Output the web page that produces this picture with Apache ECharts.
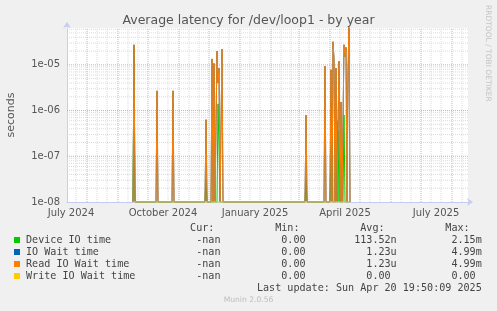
<!DOCTYPE html>
<html><head><meta charset="utf-8">
<script src="https://cdn.jsdelivr.net/npm/echarts@6/dist/echarts.min.js"></script>
<style>html,body{margin:0;padding:0;background:#f0f0f0}#c{width:497px;height:311px}</style>
</head><body><div id="c"></div>
<script>
// ---------- data ----------
const titleText = 'Average latency for /dev/loop1 - by year';
const yAxisName = 'seconds';
const xStart = '2024-07-12';
const xEnd = '2025-08-17';
const yMin = 1e-8;
const yMax = 6.4e-5;
const xLabelDates = ['2024-07-16', '2024-10-16', '2025-01-16', '2025-04-16', '2025-07-16'];
const xLabelTexts = ['July 2024', 'October 2024', 'January 2025', 'April 2025', 'July 2025'];
const monthStarts = ['2024-08-01','2024-09-01','2024-10-01','2024-11-01','2024-12-01','2025-01-01','2025-02-01','2025-03-01','2025-04-01','2025-05-01','2025-06-01','2025-07-01','2025-08-01'];
const minorDays = ['2024-07-21','2024-08-11','2024-08-21','2024-09-11','2024-09-21','2024-10-11','2024-10-21','2024-11-11','2024-11-21','2024-12-11','2024-12-21','2025-01-11','2025-01-21','2025-02-11','2025-02-21','2025-03-11','2025-03-21','2025-04-11','2025-04-21','2025-05-11','2025-05-21','2025-06-11','2025-06-21','2025-07-11','2025-07-21','2025-08-11'];
const yMajor = [1e-7, 1e-6, 1e-5];
const yMinor = [2e-8,3e-8,4e-8,5e-8,6e-8,7e-8,8e-8,9e-8,2e-7,3e-7,4e-7,5e-7,6e-7,7e-7,8e-7,9e-7,2e-6,3e-6,4e-6,5e-6,6e-6,7e-6,8e-6,9e-6,2e-5,3e-5,4e-5,5e-5,6e-5];

// Read IO Wait time (IO Wait time has the same values)
const readDates = ['2024-09-16','2024-09-17','2024-09-18','2024-10-09','2024-10-10','2024-10-11','2024-10-25','2024-10-26','2024-10-27','2024-11-27','2024-11-28','2024-11-29','2024-12-03','2024-12-04','2024-12-05','2024-12-06','2024-12-07','2024-12-08','2024-12-09','2024-12-10','2024-12-11','2024-12-12','2024-12-13','2024-12-14','2024-12-15','2025-03-07','2025-03-08','2025-03-09','2025-03-26','2025-03-27','2025-03-28','2025-04-01','2025-04-02','2025-04-03','2025-04-04','2025-04-05','2025-04-06','2025-04-07','2025-04-08','2025-04-09','2025-04-10','2025-04-11','2025-04-12','2025-04-13','2025-04-14','2025-04-15','2025-04-16','2025-04-17','2025-04-18','2025-04-19','2025-04-20','2025-04-21'];
const readValues = [0,2.75e-5,0,0,2.7e-6,0,0,2.7e-6,0,0,6.3e-7,0,0,1.35e-5,0,1.07e-5,0,0,2.0e-5,4.0e-6,8.5e-6,0,0,2.2e-5,0,0,7.9e-7,0,0,9.4e-6,0,0,7.8e-6,0,3.2e-5,1.35e-5,0,8.5e-6,0,0,1.2e-5,0,1.54e-6,0,0,2.75e-5,1.5e-5,2.4e-5,0,5.4e-6,1e-4,0];
const ioWaitValues = [0,2.75e-5,0,0,2.7e-6,0,0,2.7e-6,0,0,6.3e-7,0,0,1.35e-5,0,1.07e-5,0,0,2.0e-5,4.0e-6,8.5e-6,0,0,2.2e-5,0,0,7.9e-7,0,0,9.4e-6,0,0,7.8e-6,0,3.2e-5,1.35e-5,0,8.5e-6,0,0,1.2e-5,0,1.54e-6,0,0,2.75e-5,1.5e-5,2.4e-5,0,5.4e-6,1e-4,0];

const deviceDates = ['2024-09-16','2024-09-17','2024-09-18','2024-11-27','2024-11-28','2024-11-29','2024-12-09','2024-12-10','2024-12-11','2024-12-12','2025-03-07','2025-03-08','2025-03-09','2025-04-01','2025-04-02','2025-04-03','2025-04-04','2025-04-07','2025-04-08','2025-04-09','2025-04-10','2025-04-11','2025-04-14','2025-04-15','2025-04-16','2025-04-21'];
const deviceValues = [0,2.5e-5,0,0,3e-8,0,0,1.4e-6,1.5e-7,0,0,3e-8,0,0,1.8e-7,1.5e-6,0,0,6e-7,0,3.7e-7,0,0,8e-7,0,0];

const writeDates = ['2024-09-16','2025-04-21'];
const writeValues = [0, 0];

const legendNames = ['Device IO time','IO Wait time','Read IO Wait time','Write IO Wait time'];
const legendColors = ['#00cc00','#0066b3','#ff8000','#ffcc00'];
const curVals = ['-nan','-nan','-nan','-nan'];
const minVals = ['0.00','0.00','0.00','0.00'];
const avgVals = ['113.52n','1.23u','1.23u','0.00'];
const maxVals = ['2.15m','4.99m','4.99m','0.00'];
const lastUpdate = 'Last update: Sun Apr 20 19:50:09 2025';
const footer = 'Munin 2.0.56';
const sideText = 'RRDTOOL / TOBI OETIKER';

// ---------- chart ----------
const t = s => new Date(s + 'T00:00:00').getTime();
const pts = (dates, vals) => dates.map((d, i) => [t(d), Math.max(vals[i], yMin)]);
const labelTs = xLabelDates.map(t);

// grid lines drawn as broken line series through the axes
function gridSegs(xDates, yVals) {
  const out = [];
  xDates.forEach(d => { out.push([t(d), yMin], [t(d), yMax], '-'); });
  yVals.forEach(v => { out.push([t(xStart), v], [t(xEnd), v], '-'); });
  return out;
}

const mono = '10.1px "DejaVu Sans Mono"';
const withUnit = s => /[0-9]$/.test(s) ? s + ' ' : s;
const txt = (x, y, text, font, fill, align) => ({type: 'text', x: x, y: y, style: {text: text, font: font, fill: fill, align: align, verticalAlign: 'middle', textAlign: align, textVerticalAlign: 'middle'}});
const graphics = [];
graphics.push(txt(26, 228, ' '.repeat(27) + 'Cur:' + ' '.repeat(10) + 'Min:' + ' '.repeat(10) + 'Avg:' + ' '.repeat(10) + 'Max:', mono, '#444', 'left'));
legendNames.forEach((n, i) => {
  const y = 240 + i * 12;
  graphics.push({type: 'rect', shape: {x: 14, y: y - 3, width: 6, height: 6}, style: {fill: legendColors[i]}});
  const line = n.padEnd(28) + curVals[i] + minVals[i].padStart(14) + withUnit(avgVals[i]).padStart(15) + withUnit(maxVals[i]).padStart(14);
  graphics.push(txt(26, y, line, mono, '#444', 'left'));
});
graphics.push(txt(26, 288, ' '.repeat(38) + lastUpdate, mono, '#444', 'left'));
graphics.push(txt(248.5, 300, footer, '7.6px "DejaVu Sans"', '#bdbdbd', 'center'));
const side = txt(487.5, 5, sideText, '7.5px "DejaVu Sans"', '#c4c4c4', 'left');
side.rotation = -Math.PI / 2;
graphics.push(side);

const chart = echarts.init(document.getElementById('c'), null, {renderer: 'canvas'});
chart.setOption({
  animation: false,
  backgroundColor: '#f0f0f0',
  title: {text: titleText, left: 'center', top: 9, textStyle: {fontFamily: 'DejaVu Sans', fontSize: 12.5, fontWeight: 'normal', color: '#555'}},
  grid: {left: 67, right: 29, top: 28, bottom: 109, show: true, backgroundColor: '#ffffff', borderWidth: 0, containLabel: false, outerBoundsMode: 'none'},
  xAxis: {
    type: 'value', min: t(xStart), max: t(xEnd),
    axisLine: {show: true, lineStyle: {color: '#c6cbf2', width: 1}, symbol: ['none', 'arrow'], symbolSize: [6, 6], symbolOffset: [0, 5]},
    axisTick: {show: false},
    splitLine: {show: false},
    axisLabel: {
      customValues: labelTs,
      formatter: v => { const i = labelTs.indexOf(v); return i >= 0 ? xLabelTexts[i] : ''; },
      color: '#555', fontFamily: 'DejaVu Sans', fontSize: 10, margin: 6, hideOverlap: false
    }
  },
  yAxis: {
    type: 'log', logBase: 10, min: yMin, max: yMax,
    name: yAxisName, nameLocation: 'middle', nameGap: 50, nameRotate: 90,
    nameTextStyle: {color: '#555', fontFamily: 'DejaVu Sans', fontSize: 11},
    axisLine: {show: true, lineStyle: {color: '#c6cbf2', width: 1}, symbol: ['none', 'arrow'], symbolSize: [6, 6], symbolOffset: [0, 6]},
    axisTick: {show: false},
    splitLine: {show: false},
    axisLabel: {
      showMaxLabel: false,
      formatter: v => { const e = Math.round(Math.log10(v)); return '1e' + (e < 0 ? '-' : '+') + String(Math.abs(e)).padStart(2, '0'); },
      color: '#555', fontFamily: 'DejaVu Sans', fontSize: 10, margin: 7
    }
  },
  graphic: graphics,
  series: [
    {name: 'minor grid', type: 'line', data: gridSegs(minorDays, yMinor), connectNulls: false, silent: true, symbol: 'none', z: 1,
     lineStyle: {color: '#dadada', width: 1, type: [1, 1]}},
    {name: 'major grid', type: 'line', data: gridSegs(monthStarts, yMajor), connectNulls: false, silent: true, symbol: 'none', z: 1,
     lineStyle: {color: '#eba3a3', width: 1, type: [1, 1]}},
    {name: legendNames[0], type: 'line', data: pts(deviceDates, deviceValues), showSymbol: false, symbol: 'none', z: 3, lineStyle: {color: legendColors[0], width: 1}},
    {name: legendNames[1], type: 'line', data: pts(readDates, ioWaitValues), showSymbol: false, symbol: 'none', z: 4, lineStyle: {color: legendColors[1], width: 1}},
    {name: legendNames[2], type: 'line', data: pts(readDates, readValues), showSymbol: false, symbol: 'none', z: 5, lineStyle: {color: legendColors[2], width: 1}},
    {name: legendNames[3], type: 'line', data: pts(writeDates, writeValues), showSymbol: false, symbol: 'none', z: 6, lineStyle: {color: legendColors[3], width: 1}}
  ]
});
</script></body></html>
